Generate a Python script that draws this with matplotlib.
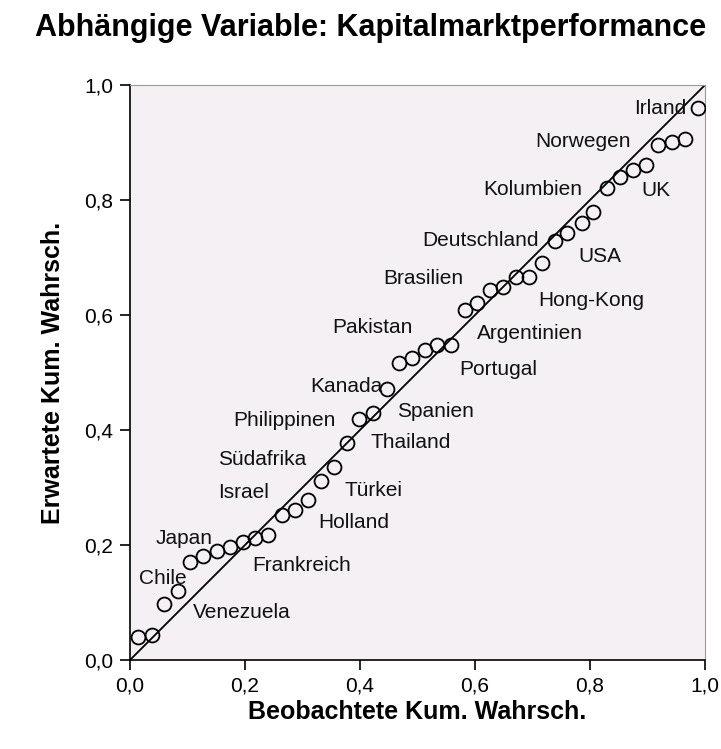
import matplotlib.pyplot as plt

plt.rcParams['font.family'] = ['Liberation Sans', 'DejaVu Sans']

# observed cumulative probability (x) and expected cumulative probability (y)
beobachtet = [0.014, 0.038, 0.059, 0.083, 0.104, 0.127, 0.151, 0.174, 0.197, 0.218,
              0.240, 0.264, 0.287, 0.310, 0.332, 0.354, 0.377, 0.398, 0.423, 0.447,
              0.468, 0.490, 0.513, 0.534, 0.558, 0.583, 0.603, 0.626, 0.649, 0.671,
              0.694, 0.717, 0.739, 0.760, 0.786, 0.805, 0.830, 0.852, 0.875, 0.897,
              0.918, 0.943, 0.965, 0.988]
erwartet = [0.040, 0.043, 0.097, 0.120, 0.170, 0.181, 0.189, 0.197, 0.205, 0.212,
            0.217, 0.252, 0.261, 0.278, 0.311, 0.336, 0.377, 0.419, 0.429, 0.472,
            0.516, 0.526, 0.539, 0.548, 0.548, 0.609, 0.621, 0.643, 0.649, 0.666,
            0.666, 0.690, 0.729, 0.743, 0.760, 0.779, 0.821, 0.840, 0.853, 0.861,
            0.896, 0.901, 0.906, 0.960]

# country labels with their text anchor (centre) in data units
laender = ['Irland', 'Norwegen', 'Kolumbien', 'UK', 'Deutschland', 'USA', 'Brasilien',
           'Hong-Kong', 'Pakistan', 'Argentinien', 'Portugal', 'Kanada', 'Spanien',
           'Philippinen', 'Thailand', 'Südafrika', 'Israel', 'Türkei', 'Holland',
           'Japan', 'Frankreich', 'Chile', 'Venezuela']
label_x = [0.922, 0.788, 0.701, 0.915, 0.609, 0.817, 0.510, 0.803, 0.421, 0.696,
           0.640, 0.376, 0.532, 0.268, 0.489, 0.230, 0.198, 0.424, 0.390, 0.094,
           0.299, 0.057, 0.195]
label_y = [0.960, 0.901, 0.819, 0.816, 0.729, 0.701, 0.664, 0.626, 0.579, 0.567,
           0.506, 0.475, 0.433, 0.416, 0.379, 0.348, 0.292, 0.294, 0.240, 0.212,
           0.165, 0.141, 0.083]

tick_werte = [0.0, 0.2, 0.4, 0.6, 0.8, 1.0]
tick_texte = ['0,0', '0,2', '0,4', '0,6', '0,8', '1,0']

fig = plt.figure(figsize=(7.21, 7.49), dpi=100)
ax = fig.add_axes([130 / 721, 89 / 749, 575 / 721, 575 / 749])
ax.set_facecolor('#f4f0f4')

ax.plot([0, 1], [0, 1], color='black', linewidth=1.3, zorder=2)
ax.plot(beobachtet, erwartet, linestyle='none', marker='o', markersize=10,
        markerfacecolor='none', markeredgecolor='black', markeredgewidth=1.3, zorder=3)

for name, lx, ly in zip(laender, label_x, label_y):
    ax.text(lx, ly, name, fontsize=15, ha='center', va='center', color='#111111', zorder=4)

ax.set_xlim(0, 1)
ax.set_ylim(0, 1)
ax.set_xticks(tick_werte)
ax.set_xticklabels(tick_texte)
ax.set_yticks(tick_werte)
ax.set_yticklabels(tick_texte)
ax.tick_params(direction='out', length=7, width=1.2, labelsize=15, pad=5)

ax.spines['left'].set_linewidth(1.2)
ax.spines['bottom'].set_linewidth(1.2)
ax.spines['top'].set_color('#9a9a9a')
ax.spines['right'].set_color('#9a9a9a')

ax.set_xlabel('Beobachtete Kum. Wahrsch.', fontsize=18, fontweight='bold', labelpad=3)
ax.set_ylabel('Erwartete Kum. Wahrsch.', fontsize=18, fontweight='bold', labelpad=14)

fig.text(371 / 721, 1 - 28 / 749, 'Abhängige Variable: Kapitalmarktperformance',
         fontsize=22, fontweight='bold', ha='center', va='center')

fig.savefig('out.png', dpi=100)
